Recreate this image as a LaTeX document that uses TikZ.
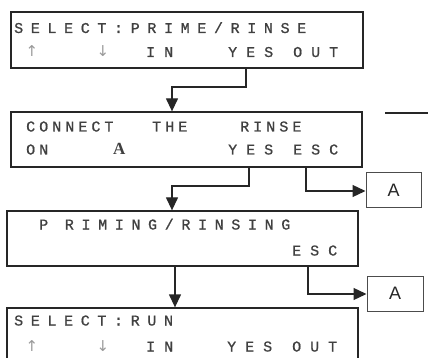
\documentclass[tikz,border=0pt]{standalone}
\usepackage{fontspec}
\setmainfont{Liberation Sans}
\newfontfamily\lcdA[LetterSpace=51,FakeBold=1]{Liberation Mono}
\newfontfamily\lcdB[LetterSpace=27,FakeBold=1]{Liberation Mono}
\newfontfamily\lcdC[LetterSpace=60,FakeBold=1]{Liberation Mono}
\newfontfamily\arrfont{DejaVu Sans}
\newfontfamily\serifA{Liberation Serif}
\usetikzlibrary{arrows.meta}
\tikzset{
  box/.style={draw=black!85, line width=1.3pt, inner sep=0pt, fill=none},
  abox/.style={draw=black!70, line width=1pt, inner sep=0pt, font=\fontsize{18}{18}\selectfont, text=black!85},
  conn/.style={draw=black!85, line width=1.3pt},
  arr/.style={conn, -{Triangle[length=13pt,width=12pt]}},
  txt/.style={anchor=base west, inner sep=0pt, text=black!75},
  wideA/.style={txt, font=\lcdA\fontsize{15}{15}\selectfont},
  wideB/.style={txt, font=\lcdB\fontsize{15}{15}\selectfont},
  wideC/.style={txt, font=\lcdC\fontsize{15}{15}\selectfont},
  updown/.style={anchor=base, inner sep=0pt, text=black!40, font=\arrfont\fontsize{15}{15}\selectfont},
}
\begin{document}
\begin{tikzpicture}[x=1pt,y=-1pt]
\useasboundingbox (0,0) rectangle (428,358);
% boxes
\node[box, minimum width=352pt, minimum height=56pt] (b1) at (187,40) {};
\node[box, minimum width=351pt, minimum height=55pt] (b2) at (186.5,139.5) {};
\node[box, minimum width=351pt, minimum height=55pt] (b3) at (182.5,238.5) {};
\node[box, minimum width=351pt, minimum height=64pt] (b4) at (182.5,340) {};
\node[abox, minimum width=55pt, minimum height=34pt] (a1) at (393.5,190) {A};
\node[abox, minimum width=56pt, minimum height=35pt] (a2) at (395,293.5) {A};
% box 1 text
\node[wideA] (t11) at (14,33) {SELECT:PRIME/RINSE};
\node[updown] (u1) at (32,57) {↑};
\node[updown] (d1) at (103,57) {↓};
\node[wideC] (in1) at (146,57) {IN};
\node[wideC] (y1) at (228,57) {YES};
\node[wideC] (o1) at (293,57) {OUT};
% box 2 text
\node[wideB] (t21) at (26,131.5) {CONNECT};
\node[wideB] (t22) at (152,131.5) {THE};
\node[wideB] (t23) at (240,131.5) {RINSE};
\node[wideB] (t24) at (26,154.5) {ON};
\node[txt, font=\serifA\bfseries\fontsize{17}{17}\selectfont] (t25) at (113,155) {A};
\node[wideC] (y2) at (228,154.5) {YES};
\node[wideC] (e2) at (293,154.5) {ESC};
% box 3 text
\node[wideA] (t31) at (39,229.5) {P RIMING/RINSING};
\node[wideC] (e3) at (292,255.5) {ESC};
% box 4 text
\node[wideA] (t41) at (14,325.5) {SELECT:RUN};
\node[updown] (u4) at (32,351.5) {↑};
\node[updown] (d4) at (103,351.5) {↓};
\node[wideC] (in4) at (146,351.5) {IN};
\node[wideC] (y4) at (227,351.5) {YES};
\node[wideC] (o4) at (292,351.5) {OUT};
% connector coordinates
\coordinate (x1) at (246,0);
\coordinate (x2) at (249,0);
\coordinate (x3) at (306,0);
\coordinate (x4) at (308,0);
\coordinate (x5) at (175,0);
\coordinate (xl) at (172,0);
\coordinate (k1) at (246,87);
\coordinate (k2) at (249,186);
\coordinate (k3) at (306,191);
\coordinate (k4) at (308,294);
\coordinate (s1) at (385,113);
\coordinate (s2) at (428,113);
% connectors
\draw[arr] (b1.south -| x1) -- (k1) -| (b2.north -| xl);
\draw[arr] (b2.south -| x2) -- (k2) -| (b3.north -| xl);
\draw[arr] (b2.south -| x3) -- (k3) -- (k3 -| a1.west);
\draw[arr] (b3.south -| x4) -- (k4) -- (k4 -| a2.west);
\draw[arr] (b3.south -| x5) -- (b4.north -| x5);
\draw[conn] (s1) -- (s2);
\end{tikzpicture}
\end{document}
